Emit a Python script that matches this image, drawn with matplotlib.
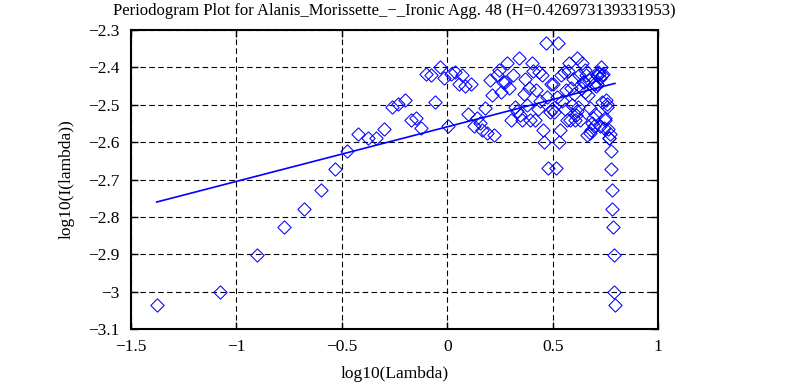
import numpy as np
import matplotlib
matplotlib.use("Agg")
import matplotlib.pyplot as plt

plt.rcParams["font.family"] = ["Liberation Serif", "DejaVu Serif"]

# Series length and Hurst estimate from the title
n_obs = 150
hurst = 0.426973139331953
fit_intercept = -2.559

# Fourier frequency index 1..149
freq_index = np.arange(1, n_obs)

# log10 periodogram values (k = 1..149)
log_power = [
    -3.037, -3.000, -2.902, -2.826, -2.779, -2.728, -2.672, -2.623, -2.577, -2.590,
    -2.590, -2.565, -2.507, -2.498, -2.487, -2.541, -2.536, -2.563, -2.417, -2.420,
    -2.493, -2.398, -2.429, -2.557, -2.418, -2.412, -2.445, -2.420, -2.450, -2.525,
    -2.445, -2.557, -2.536, -2.550, -2.567, -2.509, -2.576, -2.434, -2.474, -2.580,
    -2.420, -2.407, -2.465, -2.440, -2.438, -2.389, -2.455, -2.540, -2.420, -2.505,
    -2.518, -2.376, -2.527, -2.541, -2.470, -2.430, -2.500, -2.455, -2.540, -2.389,
    -2.410, -2.541, -2.460, -2.510, -2.411, -2.490, -2.420, -2.567, -2.599, -2.336,
    -2.480, -2.670, -2.520, -2.445, -2.510,
    -2.445, -2.520, -2.670, -2.480, -2.336, -2.599, -2.567, -2.420, -2.490, -2.411,
    -2.510, -2.460, -2.541, -2.410, -2.389, -2.540, -2.455, -2.500, -2.430, -2.470,
    -2.541, -2.527, -2.376, -2.518, -2.505, -2.420, -2.540, -2.455, -2.389, -2.438,
    -2.440, -2.465, -2.407, -2.420, -2.580, -2.474, -2.434, -2.576, -2.509, -2.567,
    -2.550, -2.536, -2.557, -2.445, -2.525, -2.450, -2.420, -2.445, -2.412, -2.418,
    -2.557, -2.429, -2.398, -2.493, -2.420, -2.417, -2.563, -2.536, -2.541, -2.487,
    -2.498, -2.507, -2.565, -2.590, -2.590, -2.577, -2.623, -2.672, -2.728, -2.779,
    -2.826, -2.902, -3.000, -3.037,
]

x_ticks = [-1.5, -1, -0.5, 0, 0.5, 1]
y_ticks = [-3.1, -3, -2.9, -2.8, -2.7, -2.6, -2.5, -2.4, -2.3]

log_lambda = np.log10(2 * np.pi * freq_index / n_obs)
slope = 1 - 2 * hurst
fit_x = np.array([log_lambda.min(), log_lambda.max()])
fit_y = fit_intercept + slope * fit_x

fig = plt.figure(figsize=(7.9, 3.85), dpi=100)
ax = fig.add_axes([0.1658, 0.1455, 0.6672, 0.7765])

ax.plot(log_lambda, log_power, linestyle="none", marker=(4, 0, 0), markersize=9.6,
        markerfacecolor="none", markeredgecolor="#0000ff", markeredgewidth=0.75)
ax.plot(fit_x, fit_y, color="#0000ff", linewidth=1.2)

ax.set_xlim(-1.5, 1)
ax.set_ylim(-3.1, -2.3)
ax.set_xticks(x_ticks)
ax.set_yticks(y_ticks)
ax.set_xticklabels(["\u22121.5", "\u22121", "\u22120.5", "0", "0.5", "1"])
ax.set_yticklabels(["\u22123.1", "\u22123", "\u22122.9", "\u22122.8", "\u22122.7",
                    "\u22122.6", "\u22122.5", "\u22122.4", "\u22122.3"])

ax.grid(True, color="black", linestyle=(0, (5, 3)), linewidth=0.8)
ax.tick_params(direction="in", length=5, width=1, top=True, right=True,
               labelsize=12.5, pad=7, colors="black")
ax.tick_params(axis="y", pad=8)
for s in ax.spines.values():
    s.set_linewidth(1.5)

ax.set_xlabel("log10(Lambda)", fontsize=12.5, labelpad=8)
ax.set_ylabel("log10(I(lambda))", fontsize=12.5, labelpad=10)
ax.set_title("Periodogram Plot for Alanis_Morissette_\u2212_Ironic Agg. 48 (H=0.426973139331953)",
             fontsize=12, pad=11)

fig.savefig("out.png", dpi=100)
